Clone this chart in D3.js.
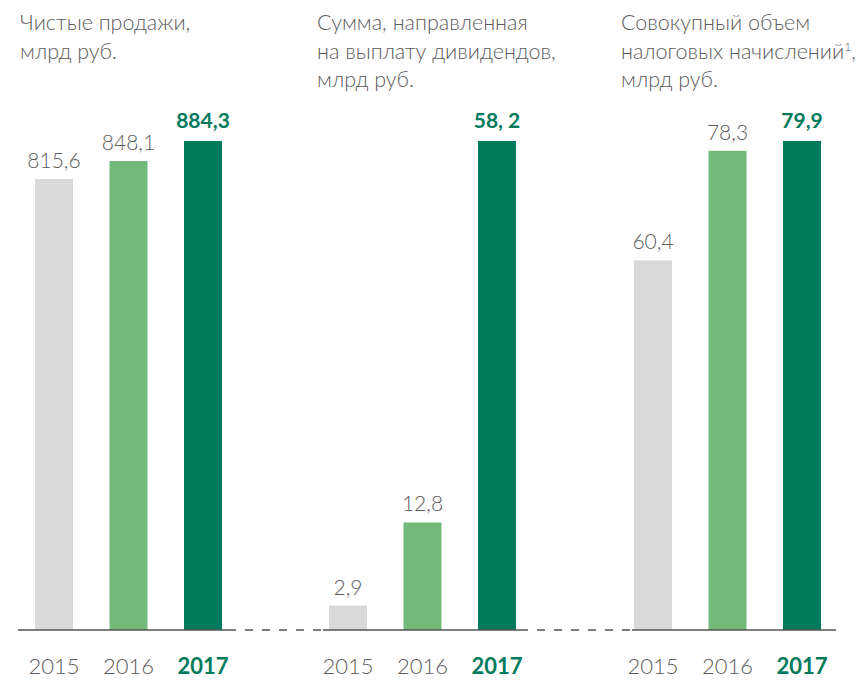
<!DOCTYPE html>
<html>
<head>
<meta charset="utf-8">
<script src="https://cdn.jsdelivr.net/npm/d3@7"></script>
<style>
  body { margin: 0; background: #fff; }
  svg { display: block; }
</style>
</head>
<body>
<div id="chart"></div>
<script>
const years = ["2015", "2016", "2017"];
const salesValues = [815.6, 848.1, 884.3];
const salesLabels = ["815,6", "848,1", "884,3"];
const dividendValues = [2.9, 12.8, 58.2];
const dividendLabels = ["2,9", "12,8", "58, 2"];
const taxValues = [60.4, 78.3, 79.9];
const taxLabels = ["60,4", "78,3", "79,9"];

const salesTitle = ["Чистые продажи,", "млрд руб."];
const dividendTitle = ["Сумма, направленная", "на выплату дивидендов,", "млрд руб."];
const taxTitle = ["Совокупный объем", "налоговых начислений", "млрд руб."];

const barColors = ["#d9d9d9", "#73b97a", "#007a5c"];
const textGray = "#5c5c5c";
const accent = "#007a5c";

const width = 865, height = 681;
const baseY = 630, topY = 141;

const panels = [
  { values: salesValues, labels: salesLabels, title: salesTitle, titleX: 20, band: [35, 222], line: [18, 228] },
  { values: dividendValues, labels: dividendLabels, title: dividendTitle, titleX: 317, band: [329, 516], line: [323, 520] },
  { values: taxValues, labels: taxLabels, title: taxTitle, titleX: 621, band: [634, 821], line: [632, 836] }
];

const svg = d3.select("#chart")
  .append("svg")
    .attr("width", width)
    .attr("height", height);

// dashed connectors between panels
[[228, 323], [520, 632]].forEach(seg => {
  svg.append("line")
    .attr("x1", seg[0]).attr("x2", seg[1])
    .attr("y1", baseY).attr("y2", baseY)
    .attr("stroke", "#555")
    .attr("stroke-width", 1.3)
    .attr("stroke-dasharray", "8,9");
});

panels.forEach((p, pi) => {
  const g = svg.append("g");

  const x = d3.scaleBand()
    .domain(years)
    .range(p.band)
    .paddingInner(0.49)
    .paddingOuter(0);

  const y = d3.scaleLinear()
    .domain([0, d3.max(p.values)])
    .range([baseY, topY]);

  // title
  const title = g.append("text")
    .attr("font-family", "Lato, 'Open Sans', sans-serif")
    .attr("font-weight", 300)
    .attr("font-size", 21.5)
    .attr("fill", textGray);
  p.title.forEach((line, i) => {
    title.append("tspan")
      .attr("x", p.titleX)
      .attr("y", 30 + i * 28.5)
      .text(line);
    if (pi === 2 && i === 1) {
      title.append("tspan").attr("dy", -8).attr("font-size", 12).text("1");
      title.append("tspan").attr("dy", 8).text(",");
    }
  });

  // bars
  g.selectAll("rect")
    .data(p.values)
    .enter()
    .append("rect")
      .attr("x", (d, i) => x(years[i]))
      .attr("y", d => y(d))
      .attr("width", x.bandwidth())
      .attr("height", d => baseY - y(d))
      .attr("fill", (d, i) => barColors[i]);

  // value labels
  g.selectAll(".val")
    .data(p.values)
    .enter()
    .append("text")
      .attr("class", "val")
      .attr("x", (d, i) => x(years[i]) + x.bandwidth() / 2)
      .attr("y", (d, i) => y(d) - (i === 2 ? 13 : 11))
      .attr("text-anchor", "middle")
      .attr("font-family", "Lato, 'Open Sans', sans-serif")
      .attr("font-size", 21)
      .attr("font-weight", (d, i) => i === 2 ? 700 : 300)
      .attr("fill", (d, i) => i === 2 ? accent : textGray)
      .text((d, i) => p.labels[i]);

  // baseline
  g.append("line")
    .attr("x1", p.line[0]).attr("x2", p.line[1])
    .attr("y1", baseY).attr("y2", baseY)
    .attr("stroke", "#555")
    .attr("stroke-width", 1.5);

  // year labels
  g.selectAll(".yr")
    .data(years)
    .enter()
    .append("text")
      .attr("class", "yr")
      .attr("x", d => x(d) + x.bandwidth() / 2)
      .attr("y", 674)
      .attr("text-anchor", "middle")
      .attr("font-family", "Lato, 'Open Sans', sans-serif")
      .attr("font-size", 22)
      .attr("font-weight", (d, i) => i === 2 ? 700 : 300)
      .attr("fill", (d, i) => i === 2 ? accent : textGray)
      .text(d => d);
});
</script>
</body>
</html>
